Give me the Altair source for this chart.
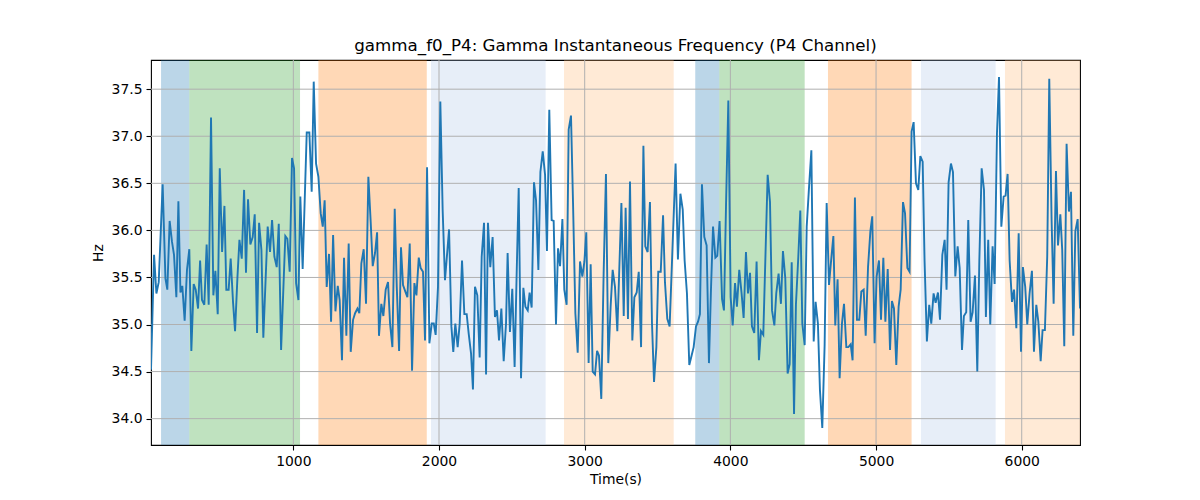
import altair as alt
import pandas as pd

# ---- data ----
time_s = [
    23, 44, 60, 76, 103, 122, 135, 151, 167, 181, 197, 211, 225, 238, 254, 270, 286, 300, 316, 330,
    346, 360, 373, 389, 405, 419, 435, 451, 465, 481, 495, 511, 527, 540, 556, 570, 586, 600, 616, 630,
    646, 662, 675, 689, 705, 721, 735, 751, 765, 781, 794, 824, 840, 854, 870, 886, 900, 916, 945, 959,
    975, 991, 1005, 1019, 1035, 1048, 1064, 1092, 1110, 1126, 1140, 1156, 1172, 1188, 1202, 1215, 1229, 1245, 1259, 1273,
    1289, 1305, 1318, 1334, 1348, 1364, 1380, 1394, 1410, 1424, 1440, 1453, 1467, 1483, 1499, 1515, 1531, 1545, 1561, 1575,
    1588, 1604, 1618, 1634, 1650, 1664, 1680, 1696, 1710, 1726, 1739, 1753, 1769, 1783, 1799, 1815, 1831, 1845, 1861, 1874,
    1890, 1904, 1918, 1934, 1950, 1964, 1977, 1993, 2009, 2025, 2041, 2069, 2085, 2098, 2112, 2128, 2142, 2158, 2174, 2190,
    2204, 2220, 2233, 2247, 2263, 2279, 2293, 2309, 2323, 2336, 2352, 2368, 2384, 2398, 2412, 2428, 2444, 2460, 2471, 2487,
    2503, 2519, 2533, 2547, 2563, 2579, 2593, 2609, 2622, 2636, 2652, 2666, 2682, 2696, 2712, 2728, 2741, 2757, 2773, 2787,
    2803, 2817, 2831, 2847, 2860, 2876, 2890, 2906, 2920, 2936, 2952, 2968, 2984, 2998, 3011, 3027, 3041, 3055, 3071, 3085,
    3098, 3114, 3130, 3146, 3162, 3178, 3192, 3208, 3224, 3252, 3268, 3281, 3297, 3311, 3327, 3341, 3357, 3371, 3387, 3403,
    3416, 3432, 3448, 3462, 3476, 3492, 3505, 3522, 3538, 3551, 3567, 3583, 3624, 3640, 3657, 3673, 3686, 3702, 3718, 3734,
    3748, 3764, 3778, 3791, 3805, 3821, 3837, 3853, 3867, 3881, 3897, 3910, 3926, 3943, 3956, 3970, 3986, 4002, 4016, 4032,
    4045, 4061, 4077, 4091, 4107, 4121, 4135, 4148, 4164, 4180, 4196, 4210, 4226, 4256, 4272, 4286, 4302, 4315, 4331, 4347,
    4361, 4377, 4393, 4407, 4421, 4437, 4450, 4466, 4480, 4494, 4510, 4524, 4540, 4556, 4572, 4585, 4601, 4615, 4631, 4647,
    4661, 4677, 4691, 4707, 4720, 4736, 4750, 4766, 4780, 4796, 4810, 4826, 4839, 4855, 4869, 4885, 4899, 4915, 4929, 4945,
    4961, 4974, 4990, 5004, 5020, 5034, 5050, 5064, 5080, 5096, 5109, 5123, 5139, 5155, 5169, 5185, 5199, 5215, 5230, 5244,
    5258, 5274, 5290, 5304, 5320, 5333, 5349, 5365, 5379, 5395, 5409, 5425, 5439, 5455, 5471, 5484, 5498, 5514, 5528, 5544,
    5560, 5574, 5590, 5603, 5619, 5633, 5649, 5663, 5679, 5695, 5709, 5725, 5741, 5754, 5770, 5784, 5800, 5814, 5830, 5844,
    5860, 5876, 5889, 5903, 5917, 5933, 5947, 5963, 5979, 5995, 6008, 6024, 6038, 6054, 6070, 6084, 6100, 6114, 6130, 6143,
    6159, 6175, 6189, 6205, 6219, 6235, 6249, 6265, 6278, 6292, 6308, 6324, 6338, 6354, 6368, 6384, 6400,
]

freq_hz = [
    34.52, 35.74, 35.33, 35.45, 36.49, 35.49, 35.37, 36.10, 35.88, 35.74, 35.29, 36.31, 35.34, 35.41, 35.04, 35.58, 35.80, 34.72, 35.43, 35.37,
    35.17, 35.68, 35.26, 35.21, 35.85, 35.21, 37.20, 35.31, 35.57, 35.11, 36.66, 35.77, 36.26, 35.37, 35.37, 35.70, 35.24, 34.93, 35.49, 35.90,
    35.70, 36.43, 35.55, 36.33, 35.85, 35.93, 36.17, 34.91, 36.08, 35.79, 34.86, 36.04, 35.77, 36.11, 35.72, 35.61, 36.07, 34.73, 35.94, 35.91,
    35.56, 36.77, 36.66, 35.44, 35.26, 36.36, 35.59, 37.04, 37.04, 36.41, 37.58, 36.71, 36.57, 36.18, 36.04, 36.32, 35.40, 35.75, 35.03, 35.95,
    35.14, 35.41, 35.26, 34.62, 35.71, 34.88, 35.86, 34.71, 35.05, 35.12, 35.17, 35.12, 35.65, 35.80, 35.22, 36.57, 36.09, 35.62, 35.76, 35.98,
    34.88, 35.22, 35.09, 35.37, 35.45, 35.01, 34.76, 36.23, 35.40, 34.72, 35.82, 35.42, 35.35, 35.29, 35.86, 34.51, 35.44, 35.31, 35.71, 35.60,
    35.56, 34.83, 36.67, 34.80, 35.01, 35.01, 34.89, 35.40, 37.37, 36.22, 35.47, 36.01, 34.98, 34.71, 35.01, 34.76, 35.01, 35.68, 35.11, 35.11,
    34.90, 34.69, 34.31, 35.40, 35.31, 34.65, 35.72, 36.08, 34.47, 36.08, 35.61, 35.93, 35.08, 35.15, 34.83, 35.17, 34.61, 35.01, 35.76, 34.92,
    35.38, 34.55, 35.54, 36.45, 34.43, 35.39, 35.19, 35.15, 35.34, 35.18, 36.51, 36.32, 35.58, 36.62, 36.84, 36.59, 35.78, 37.28, 36.11, 36.10,
    35.00, 35.81, 35.62, 36.12, 35.37, 35.21, 37.07, 37.22, 36.29, 35.12, 34.70, 35.67, 35.51, 35.67, 35.98, 34.59, 35.64, 34.50, 34.47, 34.72,
    34.67, 34.21, 35.54, 36.60, 34.59, 35.19, 35.58, 35.40, 34.93, 36.29, 35.09, 36.24, 35.06, 36.52, 34.83, 35.29, 35.34, 35.56, 34.76, 36.90,
    35.83, 35.77, 36.30, 35.01, 34.39, 34.76, 35.56, 35.56, 36.16, 35.45, 35.06, 34.98, 36.71, 35.69, 36.39, 36.22, 35.68, 35.33, 34.57, 34.67,
    34.76, 34.98, 35.03, 35.11, 36.49, 35.93, 35.84, 34.59, 35.38, 36.04, 35.71, 35.73, 36.10, 35.27, 35.15, 36.25, 37.38, 35.29, 34.99, 35.44,
    35.19, 35.58, 35.33, 35.07, 35.77, 35.33, 35.55, 34.98, 34.91, 35.67, 34.62, 34.93, 34.89, 36.59, 36.30, 35.15, 34.99, 35.33, 35.54, 35.22,
    35.78, 35.49, 34.48, 34.58, 35.66, 34.05, 35.21, 35.71, 36.21, 35.01, 34.78, 36.04, 36.46, 36.85, 34.82, 35.24, 35.01, 34.30, 33.90, 34.78,
    36.29, 35.42, 35.67, 35.94, 34.99, 35.48, 34.43, 35.01, 35.22, 34.76, 34.76, 34.79, 34.62, 36.35, 35.05, 35.05, 35.35, 35.37, 34.88, 35.61,
    35.99, 36.15, 34.80, 35.51, 35.68, 35.05, 35.71, 35.03, 35.59, 34.73, 35.25, 35.17, 34.57, 35.19, 35.37, 36.30, 36.18, 35.60, 35.56, 37.05,
    37.15, 36.50, 36.43, 36.79, 36.73, 35.68, 34.82, 35.21, 35.01, 35.33, 35.23, 35.34, 35.05, 35.74, 35.90, 35.37, 36.51, 36.71, 36.62, 35.51,
    35.83, 35.60, 34.73, 35.09, 35.13, 36.11, 35.03, 35.13, 35.52, 34.50, 35.68, 36.66, 36.43, 35.08, 35.90, 35.00, 35.83, 35.43, 37.03, 37.63,
    36.04, 36.36, 36.37, 36.60, 35.68, 35.24, 35.37, 34.96, 35.97, 34.71, 35.61, 35.40, 35.00, 35.33, 35.57, 34.71, 35.21, 35.03, 34.61, 34.94,
    34.94, 35.72, 37.61, 36.11, 35.22, 36.63, 35.84, 36.17, 35.79, 34.77, 36.92, 36.20, 36.41, 34.88, 35.99, 36.12, 35.17,
]

# shaded spans (start, end, colour)
span_start = [92, 286, 1172, 1945, 2858, 3759, 3924, 4670, 5308, 5885]
span_end = [286, 1046, 1916, 2732, 3611, 3924, 4510, 5244, 5821, 6400]
span_color = ["#1f77b4", "#2ca02c", "#ff7f0e", "#aec7e8", "#ffbb78",
              "#1f77b4", "#2ca02c", "#ff7f0e", "#aec7e8", "#ffbb78"]

x_ticks = [1000, 2000, 3000, 4000, 5000, 6000]
y_ticks = [34.0, 34.5, 35.0, 35.5, 36.0, 36.5, 37.0, 37.5]

X_DOMAIN = [23, 6400]
Y_DOMAIN = [33.72, 37.81]

line_df = pd.DataFrame({"t": time_s, "hz": freq_hz})
span_df = pd.DataFrame({"start": span_start, "end": span_end, "c": span_color})
xg_df = pd.DataFrame({"v": x_ticks})
yg_df = pd.DataFrame({"v": y_ticks})

xscale = alt.Scale(domain=X_DOMAIN, nice=False, zero=False)
yscale = alt.Scale(domain=Y_DOMAIN, nice=False, zero=False)

FONT = "DejaVu Sans"

spans = alt.Chart(span_df).mark_rect(opacity=0.3).encode(
    x=alt.X("start:Q", scale=xscale, title="Time(s)",
            axis=alt.Axis(values=x_ticks, format="d", grid=False)),
    x2="end:Q",
    y=alt.value(0),
    y2=alt.value(385),
    color=alt.Color("c:N", scale=None, legend=None),
)

xgrid = alt.Chart(xg_df).mark_rule(color="#b0b0b0", strokeWidth=1).encode(
    x=alt.X("v:Q", scale=xscale),
)
ygrid = alt.Chart(yg_df).mark_rule(color="#b0b0b0", strokeWidth=1).encode(
    y=alt.Y("v:Q", scale=yscale),
)

line = alt.Chart(line_df).mark_line(color="#1f77b4", strokeWidth=1.9, clip=True).encode(
    x=alt.X("t:Q", scale=xscale, title="Time(s)",
            axis=alt.Axis(values=x_ticks, format="d", grid=False)),
    y=alt.Y("hz:Q", scale=yscale, title="Hz",
            axis=alt.Axis(values=y_ticks, format=".1f", grid=False)),
)

chart = alt.layer(spans, xgrid, ygrid, line).properties(
    width=929,
    height=385,
    autosize=alt.AutoSizeParams(type="none"),
    padding={"left": 143, "top": 52, "right": 112, "bottom": 47},
    title=alt.TitleParams(
        "gamma_f0_P4: Gamma Instantaneous Frequency (P4 Channel)",
        font=FONT, fontSize=16.7, fontWeight="normal", color="black",
        anchor="middle", offset=5,
    ),
).configure_view(
    stroke="black", strokeWidth=1.1,
).configure_axis(
    domain=False,
    labelFont=FONT, labelFontSize=13.9, labelColor="black",
    titleFont=FONT, titleFontSize=13.9, titleColor="black", titleFontWeight="normal",
    tickColor="black", tickSize=5, tickWidth=1.1, labelPadding=4,
).configure_axisX(
    titlePadding=5,
).configure_axisY(
    titlePadding=6,
)

chart.save("out.html", embed_options={"renderer": "svg", "actions": False})
